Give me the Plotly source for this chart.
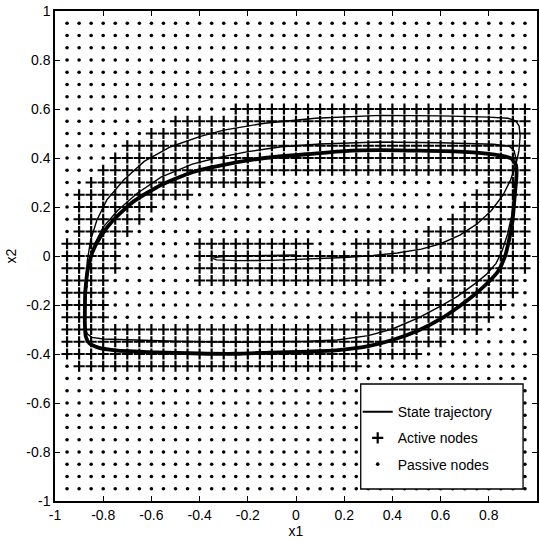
import plotly.graph_objects as go

# ---- grid node coordinates (both axes) ----
node_coords = [-0.95, -0.9, -0.85, -0.8, -0.75, -0.7, -0.65, -0.6, -0.55, -0.5,
               -0.45, -0.4, -0.35, -0.3, -0.25, -0.2, -0.15, -0.1, -0.05, 0.0,
               0.05, 0.1, 0.15, 0.2, 0.25, 0.3, 0.35, 0.4, 0.45, 0.5,
               0.55, 0.6, 0.65, 0.7, 0.75, 0.8, 0.85, 0.9, 0.95]

# ---- active node spans per row: y -> list of [x_from, x_to] ----
active_rows = {
    0.6:   [[-0.25, 0.95]],
    0.55:  [[-0.5, 0.95]],
    0.5:   [[-0.6, 0.95]],
    0.45:  [[-0.7, 0.95]],
    0.4:   [[-0.75, 0.95]],
    0.35:  [[-0.8, 0.95]],
    0.3:   [[-0.85, -0.15], [0.8, 0.95]],
    0.25:  [[-0.9, -0.45], [0.75, 0.95]],
    0.2:   [[-0.9, -0.6], [0.7, 0.95]],
    0.15:  [[-0.9, -0.65], [0.65, 0.95]],
    0.1:   [[-0.9, -0.7], [0.55, 0.95]],
    0.05:  [[-0.95, -0.75], [-0.4, 0.05], [0.25, 0.95]],
    0.0:   [[-0.95, -0.75], [-0.4, 0.95]],
    -0.05: [[-0.95, -0.75], [-0.4, 0.95]],
    -0.1:  [[-0.95, -0.8], [-0.4, 0.35], [0.65, 0.9]],
    -0.15: [[-0.95, -0.8], [0.55, 0.9]],
    -0.2:  [[-0.95, -0.8], [0.45, 0.85]],
    -0.25: [[-0.95, -0.8], [0.25, 0.8]],
    -0.3:  [[-0.95, 0.75]],
    -0.35: [[-0.95, 0.6]],
    -0.4:  [[-0.95, 0.5]],
    -0.45: [[-0.9, 0.25]],
}

# ---- state trajectory: transient part (thin) ----
traj_x = [0.0, -0.15, -0.27, -0.325, -0.345, -0.33, -0.25, -0.1, 0.05, 0.2,
          0.32, 0.42, 0.52, 0.6, 0.68, 0.75, 0.81, 0.86, 0.89, 0.912,
          0.925, 0.93, 0.926, 0.912, 0.88, 0.8, 0.6, 0.35, 0.08, -0.13,
          -0.3, -0.4, -0.52, -0.63, -0.715, -0.785, -0.826, -0.852, -0.866, -0.873,
          -0.876, -0.875, -0.866, -0.847, -0.8, -0.72, -0.5, -0.25, -0.1, 0.05,
          0.17, 0.3, 0.4, 0.51, 0.6, 0.67, 0.74, 0.79, 0.83, 0.855,
          0.878, 0.895, 0.908, 0.915, 0.914, 0.905, 0.885, 0.82, 0.6, 0.34,
          0.1, -0.06, -0.2, -0.34, -0.43, -0.56, -0.66, -0.74, -0.8, -0.835,
          -0.858, -0.87]
traj_y = [0.004, 0.003, 0.0, -0.004, -0.01, -0.016, -0.019, -0.018, -0.013, -0.006,
          0.002, 0.012, 0.028, 0.05, 0.085, 0.13, 0.185, 0.25, 0.31, 0.37,
          0.43, 0.49, 0.53, 0.552, 0.562, 0.567, 0.572, 0.574, 0.562, 0.542,
          0.514, 0.487, 0.446, 0.386, 0.31, 0.229, 0.147, 0.066, -0.02, -0.12,
          -0.22, -0.29, -0.318, -0.332, -0.339, -0.342, -0.348, -0.352, -0.351, -0.348,
          -0.343, -0.325, -0.298, -0.252, -0.205, -0.165, -0.115, -0.075, -0.03, 0.02,
          0.09, 0.165, 0.25, 0.33, 0.39, 0.43, 0.448, 0.456, 0.462, 0.465,
          0.457, 0.446, 0.426, 0.398, 0.375, 0.322, 0.255, 0.186, 0.118, 0.05,
          -0.03, -0.12]

# ---- state trajectory: converged limit cycle (drawn thick) ----
cycle_x = [-0.87, -0.874, -0.876, -0.872, -0.858, -0.82, -0.75, -0.585, -0.4, -0.25,
           -0.11, 0.05, 0.166, 0.3, 0.4, 0.51, 0.6, 0.668, 0.744, 0.8,
           0.84, 0.866, 0.885, 0.898, 0.908, 0.915, 0.913, 0.895, 0.85, 0.7,
           0.5, 0.345, 0.2, 0.076, -0.13, -0.3, -0.43, -0.56, -0.675, -0.757,
           -0.812, -0.845, -0.865, -0.874]
cycle_y = [-0.12, -0.14, -0.277, -0.33, -0.356, -0.374, -0.385, -0.393, -0.398, -0.399,
           -0.394, -0.39, -0.385, -0.368, -0.343, -0.303, -0.257, -0.212, -0.155, -0.105,
           -0.06, -0.005, 0.07, 0.14, 0.25, 0.33, 0.37, 0.397, 0.41, 0.425,
           0.43, 0.432, 0.428, 0.418, 0.4, 0.372, 0.342, 0.29, 0.222, 0.148,
           0.078, 0.015, -0.06, -0.14]

tick_vals = [-1, -0.8, -0.6, -0.4, -0.2, 0, 0.2, 0.4, 0.6, 0.8, 1]
tick_text = ["-1", "-0.8", "-0.6", "-0.4", "-0.2", "0", "0.2", "0.4", "0.6", "0.8", "1"]

# ---- split nodes into active / passive ----
act_x, act_y, pas_x, pas_y = [], [], [], []
for yv in node_coords:
    spans = [v for k, v in active_rows.items() if abs(k - yv) < 1e-9]
    spans = spans[0] if spans else []
    for xv in node_coords:
        on = any(a - 1e-9 <= xv <= b + 1e-9 for a, b in spans)
        if on:
            act_x.append(xv); act_y.append(yv)
        else:
            pas_x.append(xv); pas_y.append(yv)

FONT = "Liberation Sans, Arial, sans-serif"
plus_marker = dict(symbol="cross-thin", size=8, color="black", line=dict(width=2.2, color="black"))
dot_marker = dict(symbol="circle", size=3.6, color="black", line=dict(width=0))

fig = go.Figure()
fig.add_trace(go.Scatter(x=pas_x, y=pas_y, mode="markers", name="Passive nodes",
                         marker=dot_marker, showlegend=False))
fig.add_trace(go.Scatter(x=act_x, y=act_y, mode="markers", name="Active nodes",
                         marker=plus_marker, showlegend=False))
fig.add_trace(go.Scatter(x=traj_x, y=traj_y, mode="lines", name="State trajectory",
                         line=dict(color="black", width=1.4), showlegend=False))
fig.add_trace(go.Scatter(x=cycle_x, y=cycle_y, mode="lines", name="State trajectory",
                         line=dict(color="black", width=3.8, shape="spline", smoothing=0.6),
                         showlegend=False))
# legend entries
fig.add_trace(go.Scatter(x=[None], y=[None], mode="lines", name="State trajectory",
                         legendgroup="a", line=dict(color="black", width=2)))
fig.add_trace(go.Scatter(x=[None], y=[None], mode="markers", name="Active nodes",
                         legendgroup="b", marker=plus_marker))
fig.add_trace(go.Scatter(x=[None], y=[None], mode="markers", name="Passive nodes",
                         legendgroup="c", marker=dot_marker))

axis_common = dict(range=[-1, 1], tickvals=tick_vals, ticktext=tick_text,
                   showgrid=False, zeroline=False, showline=True, mirror="ticks",
                   linecolor="black", linewidth=1.5, ticks="inside", ticklen=5,
                   tickwidth=1.2, tickcolor="black",
                   tickfont=dict(family=FONT, size=14, color="black"))

fig.update_layout(
    width=540, height=544,
    margin=dict(l=55, r=1, t=11, b=43),
    paper_bgcolor="white", plot_bgcolor="white",
    xaxis=dict(**axis_common, title=dict(text="x1", standoff=4,
               font=dict(family=FONT, size=14, color="black"))),
    yaxis=dict(**axis_common, title=dict(text="x2", standoff=6,
               font=dict(family=FONT, size=14, color="black"))),
    legend=dict(x=0.628, y=0.214, xanchor="left", yanchor="top",
                bgcolor="rgba(0,0,0,0)", borderwidth=0, itemwidth=30,
                tracegroupgap=5,
                font=dict(family=FONT, size=14, color="black")),
    shapes=[dict(type="rect", xref="paper", yref="paper",
                 x0=(362 - 55) / 484, x1=(525 - 55) / 484,
                 y0=(501 - 489) / 490, y1=(501 - 384) / 490,
                 fillcolor="white", line=dict(color="black", width=1.3), layer="above")],
)

fig.write_html("out.html", config={"displayModeBar": False},
               post_script="document.body.style.margin='0';")
